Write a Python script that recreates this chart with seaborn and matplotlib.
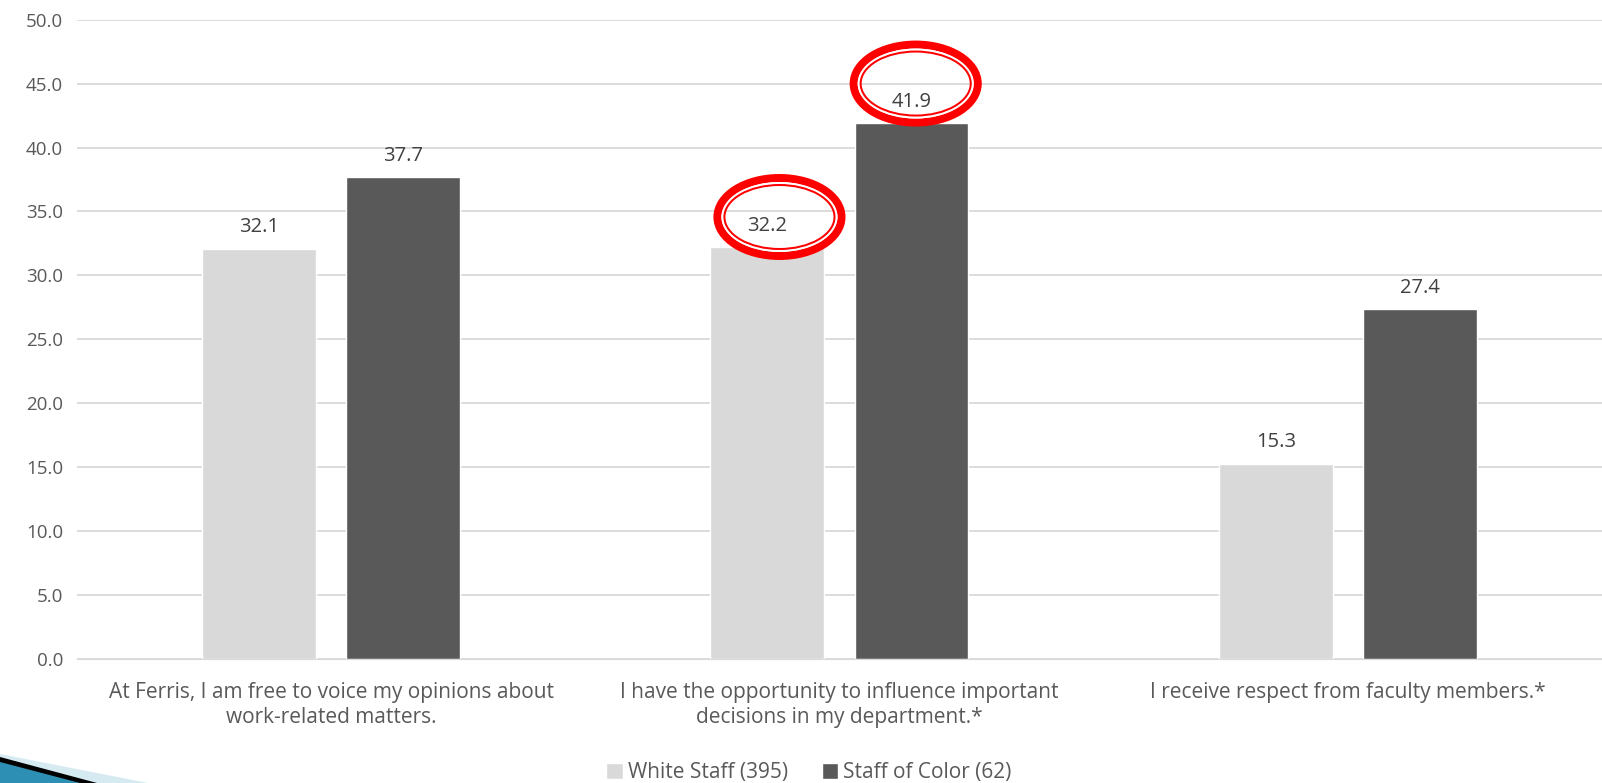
import matplotlib
matplotlib.use("Agg")
import matplotlib.pyplot as plt
from matplotlib.patches import Ellipse, Polygon
import pandas as pd
import seaborn as sns

questions = [
    "At Ferris, I am free to voice my opinions about\nwork-related matters.",
    "I have the opportunity to influence important\ndecisions in my department.*",
    "I receive respect from faculty members.*",
]
groups = ["White Staff (395)", "Staff of Color (62)"]
white_staff = [32.1, 32.2, 15.3]
staff_of_color = [37.7, 41.9, 27.4]

df = pd.DataFrame({
    "question": questions * 2,
    "group": [groups[0]] * 3 + [groups[1]] * 3,
    "value": white_staff + staff_of_color,
})

sns.set_style("white")
plt.rcParams["font.family"] = ["Open Sans", "DejaVu Sans"]
txt = "#595959"

fig = plt.figure(figsize=(16.02, 7.83), dpi=100)
ax = fig.add_axes([0.048, 0.158, 0.952, 0.817])

sns.barplot(data=df, x="question", y="value", hue="group",
            palette=["#D9D9D9", "#595959"], width=0.567, gap=0.21,
            errorbar=None, ax=ax, legend=True)

for c in ax.containers:
    ax.bar_label(c, fmt="%.1f", padding=8, fontsize=14.5, color="#404040")

ax.set_ylim(0, 50)
ax.set_yticks(range(0, 51, 5))
ax.set_yticklabels([f"{v:.1f}" for v in range(0, 51, 5)])
ax.yaxis.grid(True, color="#D9D9D9", linewidth=1.3)
ax.set_axisbelow(True)
for s in ["top", "right", "left"]:
    ax.spines[s].set_visible(False)
ax.spines["bottom"].set_color("#D9D9D9")
ax.tick_params(axis="y", length=0, labelsize=13.5, colors=txt, pad=10)
ax.tick_params(axis="x", length=0, labelsize=15, colors=txt, pad=16)
for t in ax.get_xticklabels():
    t.set_linespacing(1.3)
ax.set_xlabel("")
ax.set_ylabel("")

# legend at the bottom
h, l = ax.get_legend_handles_labels()
ax.get_legend().remove()
fig.legend(h, l, loc="lower center", bbox_to_anchor=(0.505, -0.024), ncol=2,
           frameon=False, fontsize=15, labelcolor=txt, handlelength=0.8,
           handleheight=0.8, handletextpad=0.25, columnspacing=1.6)

# red highlight circles (data coords)
px_x = 508.0
px_y = 12.8
for cx, cy in [(0.882, 34.57), (1.15, 45.0)]:
    w, hh = 132, 86
    for d, lw, col in [(8, 8, "#FF0000"), (18, 2, "white"), (22, 2, "#FF0000")]:
        e = Ellipse((cx, cy), (w - d) / px_x, (hh - d) / px_y, fill=False,
                    edgecolor=col, linewidth=lw * 0.72, clip_on=False, zorder=5)
        ax.add_patch(e)

# slide corner decoration
H = 783.0
W = 1602.0
fig.patches.append(Polygon([(0, 1 - 754 / H), (148 / W, 0), (0, 0)],
                           closed=True, transform=fig.transFigure,
                           facecolor="#D6EAF2", edgecolor="none"))
fig.patches.append(Polygon([(0, 1 - 757 / H), (97 / W, 0), (0, 0)],
                           closed=True, transform=fig.transFigure,
                           facecolor="black", edgecolor="none"))
fig.patches.append(Polygon([(0, 1 - 762 / H), (80 / W, 0), (0, 0)],
                           closed=True, transform=fig.transFigure,
                           facecolor="#2E8FB5", edgecolor="none"))

fig.savefig("out.png", dpi=100)
